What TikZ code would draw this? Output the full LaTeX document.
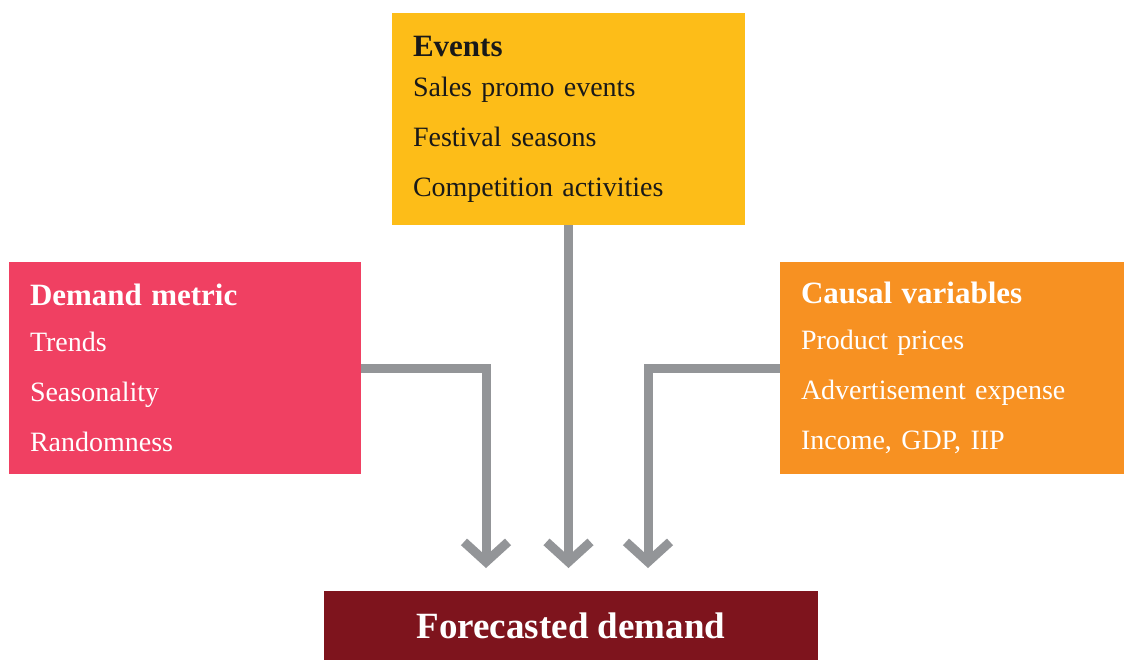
\documentclass[tikz,border=0pt]{standalone}
\usepackage{fontspec}
\setmainfont{Liberation Serif}
\usetikzlibrary{arrows.meta}

\definecolor{eventyellow}{HTML}{FDBD18}
\definecolor{metricpink}{HTML}{F04062}
\definecolor{causalorange}{HTML}{F79122}
\definecolor{forecastred}{HTML}{7E141D}
\definecolor{flowgray}{HTML}{939598}

\newcommand{\boxhead}[1]{{\fontsize{15.5}{18}\selectfont\bfseries #1}}

\begin{document}
\begin{tikzpicture}[x=0.5pt, y=-0.5pt,
    box/.style = {rectangle, minimum height=106pt, inner xsep=10.5pt, inner ysep=0pt, align=left, font=\fontsize{14}{25}\selectfont},
    flow/.style = {draw=flowgray, line width=4.5pt, -{Straight Barb[sharp, length=10pt, width=22pt]}}]
    \useasboundingbox (0,0) rectangle (1125,661);

    \node [box, fill=eventyellow, text=black!90, text width=155.5pt] (events) at (568.5,119)
        {\boxhead{Events}\\[-5pt] Sales promo events\\ Festival seasons\\ Competition activities};

    \node [box, fill=metricpink, text=white, text width=155pt] (metric) at (185,368)
        {\boxhead{Demand metric}\\[-2pt] Trends\\ Seasonality\\ Randomness};

    \node [box, fill=causalorange, text=white, text width=151pt] (causal) at (952,368)
        {\boxhead{Causal variables}\\[-2pt] Product prices\\ Advertisement expense\\ Income, GDP, IIP};

    \node [fill=forecastred, text=white, minimum width=247pt, minimum height=34.5pt, font=\fontsize{18.5}{22}\selectfont\bfseries] (forecast) at (571,625.5) {Forecasted demand};

    \coordinate (tipL) at (486,568);
    \coordinate (tipM) at (568.5,568);
    \coordinate (tipR) at (648,568);

    \draw [flow] (metric.east) -| (tipL);
    \draw [flow] (events.south) -- (tipM);
    \draw [flow] (causal.west) -| (tipR);
\end{tikzpicture}
\end{document}
